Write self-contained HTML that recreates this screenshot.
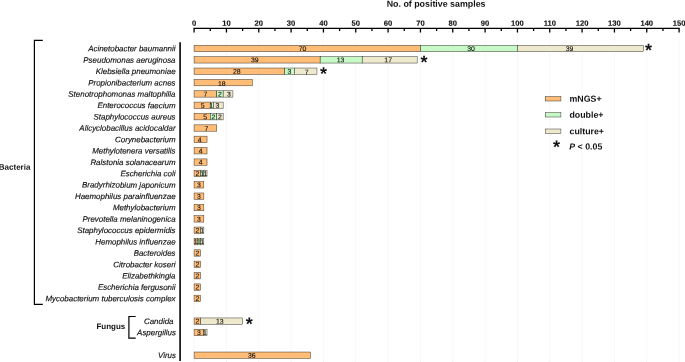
<!DOCTYPE html>
<html><head><meta charset="utf-8"><title>No. of positive samples</title>
<style>html,body{margin:0;padding:0;background:#fff}svg{display:block;will-change:transform}text{text-rendering:geometricPrecision;font-family:"Liberation Sans",sans-serif;fill:#111}.lab{font-style:italic;font-size:7.95px;text-anchor:end;stroke:#111;stroke-width:0.15px}.val{font-size:6.9px;text-anchor:middle;fill:#111;stroke:#111;stroke-width:0.12px}.tick{font-weight:bold;font-size:7.6px;text-anchor:middle;stroke:#111;stroke-width:0.12px}.b{font-weight:bold}</style></head><body>
<svg width="685" height="362" viewBox="0 0 685 362">
<rect width="685" height="362" fill="#fff"/>
<line x1="194.10" y1="33" x2="194.10" y2="362" stroke="#e8e8e8" stroke-width="0.6" stroke-dasharray="1 1"/>
<line x1="226.43" y1="33" x2="226.43" y2="362" stroke="#e8e8e8" stroke-width="0.6" stroke-dasharray="1 1"/>
<line x1="258.77" y1="33" x2="258.77" y2="362" stroke="#e8e8e8" stroke-width="0.6" stroke-dasharray="1 1"/>
<line x1="291.10" y1="33" x2="291.10" y2="362" stroke="#e8e8e8" stroke-width="0.6" stroke-dasharray="1 1"/>
<line x1="323.43" y1="33" x2="323.43" y2="362" stroke="#e8e8e8" stroke-width="0.6" stroke-dasharray="1 1"/>
<line x1="355.76" y1="33" x2="355.76" y2="362" stroke="#e8e8e8" stroke-width="0.6" stroke-dasharray="1 1"/>
<line x1="388.10" y1="33" x2="388.10" y2="362" stroke="#e8e8e8" stroke-width="0.6" stroke-dasharray="1 1"/>
<line x1="420.43" y1="33" x2="420.43" y2="362" stroke="#e8e8e8" stroke-width="0.6" stroke-dasharray="1 1"/>
<line x1="452.76" y1="33" x2="452.76" y2="362" stroke="#e8e8e8" stroke-width="0.6" stroke-dasharray="1 1"/>
<line x1="485.10" y1="33" x2="485.10" y2="362" stroke="#e8e8e8" stroke-width="0.6" stroke-dasharray="1 1"/>
<line x1="517.43" y1="33" x2="517.43" y2="362" stroke="#e8e8e8" stroke-width="0.6" stroke-dasharray="1 1"/>
<line x1="549.76" y1="33" x2="549.76" y2="362" stroke="#e8e8e8" stroke-width="0.6" stroke-dasharray="1 1"/>
<line x1="582.10" y1="33" x2="582.10" y2="362" stroke="#e8e8e8" stroke-width="0.6" stroke-dasharray="1 1"/>
<line x1="614.43" y1="33" x2="614.43" y2="362" stroke="#e8e8e8" stroke-width="0.6" stroke-dasharray="1 1"/>
<line x1="646.76" y1="33" x2="646.76" y2="362" stroke="#e8e8e8" stroke-width="0.6" stroke-dasharray="1 1"/>
<line x1="679.10" y1="33" x2="679.10" y2="362" stroke="#e8e8e8" stroke-width="0.6" stroke-dasharray="1 1"/>
<text class="b" x="436.1" y="6.8" text-anchor="middle" font-size="8.85" transform="rotate(0.03 436.1 6.8)">No. of positive samples</text>
<line x1="193.45" y1="28.4" x2="679.75" y2="28.4" stroke="#000" stroke-width="1.2"/>
<line x1="194.10" y1="28.4" x2="194.10" y2="32.5" stroke="#000" stroke-width="1.3"/>
<text class="tick" x="194.10" y="25.8" transform="rotate(0.03 194.10 25.8)">0</text>
<line x1="210.27" y1="28.4" x2="210.27" y2="31.0" stroke="#000" stroke-width="1.3"/>
<line x1="226.43" y1="28.4" x2="226.43" y2="32.5" stroke="#000" stroke-width="1.3"/>
<text class="tick" x="226.43" y="25.8" transform="rotate(0.03 226.43 25.8)">10</text>
<line x1="242.60" y1="28.4" x2="242.60" y2="31.0" stroke="#000" stroke-width="1.3"/>
<line x1="258.77" y1="28.4" x2="258.77" y2="32.5" stroke="#000" stroke-width="1.3"/>
<text class="tick" x="258.77" y="25.8" transform="rotate(0.03 258.77 25.8)">20</text>
<line x1="274.93" y1="28.4" x2="274.93" y2="31.0" stroke="#000" stroke-width="1.3"/>
<line x1="291.10" y1="28.4" x2="291.10" y2="32.5" stroke="#000" stroke-width="1.3"/>
<text class="tick" x="291.10" y="25.8" transform="rotate(0.03 291.10 25.8)">30</text>
<line x1="307.27" y1="28.4" x2="307.27" y2="31.0" stroke="#000" stroke-width="1.3"/>
<line x1="323.43" y1="28.4" x2="323.43" y2="32.5" stroke="#000" stroke-width="1.3"/>
<text class="tick" x="323.43" y="25.8" transform="rotate(0.03 323.43 25.8)">40</text>
<line x1="339.60" y1="28.4" x2="339.60" y2="31.0" stroke="#000" stroke-width="1.3"/>
<line x1="355.76" y1="28.4" x2="355.76" y2="32.5" stroke="#000" stroke-width="1.3"/>
<text class="tick" x="355.76" y="25.8" transform="rotate(0.03 355.76 25.8)">50</text>
<line x1="371.93" y1="28.4" x2="371.93" y2="31.0" stroke="#000" stroke-width="1.3"/>
<line x1="388.10" y1="28.4" x2="388.10" y2="32.5" stroke="#000" stroke-width="1.3"/>
<text class="tick" x="388.10" y="25.8" transform="rotate(0.03 388.10 25.8)">60</text>
<line x1="404.26" y1="28.4" x2="404.26" y2="31.0" stroke="#000" stroke-width="1.3"/>
<line x1="420.43" y1="28.4" x2="420.43" y2="32.5" stroke="#000" stroke-width="1.3"/>
<text class="tick" x="420.43" y="25.8" transform="rotate(0.03 420.43 25.8)">70</text>
<line x1="436.60" y1="28.4" x2="436.60" y2="31.0" stroke="#000" stroke-width="1.3"/>
<line x1="452.76" y1="28.4" x2="452.76" y2="32.5" stroke="#000" stroke-width="1.3"/>
<text class="tick" x="452.76" y="25.8" transform="rotate(0.03 452.76 25.8)">80</text>
<line x1="468.93" y1="28.4" x2="468.93" y2="31.0" stroke="#000" stroke-width="1.3"/>
<line x1="485.10" y1="28.4" x2="485.10" y2="32.5" stroke="#000" stroke-width="1.3"/>
<text class="tick" x="485.10" y="25.8" transform="rotate(0.03 485.10 25.8)">90</text>
<line x1="501.26" y1="28.4" x2="501.26" y2="31.0" stroke="#000" stroke-width="1.3"/>
<line x1="517.43" y1="28.4" x2="517.43" y2="32.5" stroke="#000" stroke-width="1.3"/>
<text class="tick" x="517.43" y="25.8" transform="rotate(0.03 517.43 25.8)">100</text>
<line x1="533.60" y1="28.4" x2="533.60" y2="31.0" stroke="#000" stroke-width="1.3"/>
<line x1="549.76" y1="28.4" x2="549.76" y2="32.5" stroke="#000" stroke-width="1.3"/>
<text class="tick" x="549.76" y="25.8" transform="rotate(0.03 549.76 25.8)">110</text>
<line x1="565.93" y1="28.4" x2="565.93" y2="31.0" stroke="#000" stroke-width="1.3"/>
<line x1="582.10" y1="28.4" x2="582.10" y2="32.5" stroke="#000" stroke-width="1.3"/>
<text class="tick" x="582.10" y="25.8" transform="rotate(0.03 582.10 25.8)">120</text>
<line x1="598.26" y1="28.4" x2="598.26" y2="31.0" stroke="#000" stroke-width="1.3"/>
<line x1="614.43" y1="28.4" x2="614.43" y2="32.5" stroke="#000" stroke-width="1.3"/>
<text class="tick" x="614.43" y="25.8" transform="rotate(0.03 614.43 25.8)">130</text>
<line x1="630.60" y1="28.4" x2="630.60" y2="31.0" stroke="#000" stroke-width="1.3"/>
<line x1="646.76" y1="28.4" x2="646.76" y2="32.5" stroke="#000" stroke-width="1.3"/>
<text class="tick" x="646.76" y="25.8" transform="rotate(0.03 646.76 25.8)">140</text>
<line x1="662.93" y1="28.4" x2="662.93" y2="31.0" stroke="#000" stroke-width="1.3"/>
<line x1="679.10" y1="28.4" x2="679.10" y2="32.5" stroke="#000" stroke-width="1.3"/>
<text class="tick" x="679.10" y="25.8" transform="rotate(0.03 679.10 25.8)">150</text>
<line x1="180.1" y1="42.2" x2="180.1" y2="361" stroke="#111" stroke-width="1.7"/>
<path d="M42.8 40.3H34.4V304.4H42.8" fill="none" stroke="#000" stroke-width="1.2"/>
<text class="b" x="-1.2" y="169.8" font-size="8" transform="rotate(0.03 -1.2 169.8)">Bacteria</text>
<path d="M135.7 316.5H128.9V338.2H135.7" fill="none" stroke="#000" stroke-width="1.2"/>
<text class="b" x="96.4" y="329.1" font-size="8" transform="rotate(0.03 96.4 329.1)">Fungus</text>
<text class="lab" x="175.55" y="51.35" transform="rotate(0.03 175.55 51.35)">Acinetobacter baumannii</text>
<rect x="194.10" y="45.30" width="226.33" height="6.4" fill="#FFBD78" stroke="#000" stroke-opacity="0.7" stroke-width="0.55"/>
<text class="val" x="302.57" y="51.00" transform="rotate(0.03 302.57 51.00)">70</text>
<rect x="420.43" y="45.30" width="97.00" height="6.4" fill="#C6F9C6" stroke="#000" stroke-opacity="0.7" stroke-width="0.55"/>
<text class="val" x="471.03" y="51.00" transform="rotate(0.03 471.03 51.00)">30</text>
<rect x="517.43" y="45.30" width="126.10" height="6.4" fill="#EEE8CC" stroke="#000" stroke-opacity="0.7" stroke-width="0.55"/>
<text class="val" x="569.48" y="51.00" transform="rotate(0.03 569.48 51.00)">39</text>
<text class="b" x="648.53" y="56.30" text-anchor="middle" font-size="18" transform="rotate(0.03 648.53 56.30)">*</text>
<text class="lab" x="175.55" y="62.71" transform="rotate(0.03 175.55 62.71)">Pseudomonas aeruginosa</text>
<rect x="194.10" y="56.66" width="126.10" height="6.4" fill="#FFBD78" stroke="#000" stroke-opacity="0.7" stroke-width="0.55"/>
<text class="val" x="254.75" y="62.36" transform="rotate(0.03 254.75 62.36)">39</text>
<rect x="320.20" y="56.66" width="42.03" height="6.4" fill="#C6F9C6" stroke="#000" stroke-opacity="0.7" stroke-width="0.55"/>
<text class="val" x="340.62" y="62.36" transform="rotate(0.03 340.62 62.36)">13</text>
<rect x="362.23" y="56.66" width="54.97" height="6.4" fill="#EEE8CC" stroke="#000" stroke-opacity="0.7" stroke-width="0.55"/>
<text class="val" x="388.21" y="62.36" transform="rotate(0.03 388.21 62.36)">17</text>
<text class="b" x="424.10" y="68.21" text-anchor="middle" font-size="18" transform="rotate(0.03 424.10 68.21)">*</text>
<text class="lab" x="175.55" y="74.07" transform="rotate(0.03 175.55 74.07)">Klebsiella pneumoniae</text>
<rect x="194.10" y="68.02" width="90.53" height="6.4" fill="#FFBD78" stroke="#000" stroke-opacity="0.7" stroke-width="0.55"/>
<text class="val" x="236.77" y="73.72" transform="rotate(0.03 236.77 73.72)">28</text>
<rect x="284.63" y="68.02" width="9.70" height="6.4" fill="#C6F9C6" stroke="#000" stroke-opacity="0.7" stroke-width="0.55"/>
<text class="val" x="289.48" y="73.72" transform="rotate(0.03 289.48 73.72)">3</text>
<rect x="294.33" y="68.02" width="22.63" height="6.4" fill="#EEE8CC" stroke="#000" stroke-opacity="0.7" stroke-width="0.55"/>
<text class="val" x="306.55" y="74.62" transform="rotate(0.03 306.55 74.62)">7</text>
<text class="b" x="323.57" y="79.72" text-anchor="middle" font-size="18" transform="rotate(0.03 323.57 79.72)">*</text>
<text class="lab" x="175.55" y="85.43" transform="rotate(0.03 175.55 85.43)">Propionibacterium acnes</text>
<rect x="194.10" y="79.38" width="58.20" height="6.4" fill="#FFBD78" stroke="#000" stroke-opacity="0.7" stroke-width="0.55"/>
<text class="val" x="221.80" y="85.98" transform="rotate(0.03 221.80 85.98)">18</text>
<text class="lab" x="175.55" y="96.79" transform="rotate(0.03 175.55 96.79)">Stenotrophomonas maltophilia</text>
<rect x="194.10" y="90.74" width="22.63" height="6.4" fill="#FFBD78" stroke="#000" stroke-opacity="0.7" stroke-width="0.55"/>
<text class="val" x="205.42" y="96.44" transform="rotate(0.03 205.42 96.44)">7</text>
<rect x="216.73" y="90.74" width="6.47" height="6.4" fill="#C6F9C6" stroke="#000" stroke-opacity="0.7" stroke-width="0.55"/>
<text class="val" x="219.97" y="96.44" transform="rotate(0.03 219.97 96.44)">2</text>
<rect x="223.20" y="90.74" width="9.70" height="6.4" fill="#EEE8CC" stroke="#000" stroke-opacity="0.7" stroke-width="0.55"/>
<text class="val" x="228.95" y="96.44" transform="rotate(0.03 228.95 96.44)">3</text>
<text class="lab" x="175.55" y="108.15" transform="rotate(0.03 175.55 108.15)">Enterococcus faecium</text>
<rect x="194.10" y="102.10" width="16.17" height="6.4" fill="#FFBD78" stroke="#000" stroke-opacity="0.7" stroke-width="0.55"/>
<text class="val" x="202.58" y="107.80" transform="rotate(0.03 202.58 107.80)">5</text>
<rect x="210.27" y="102.10" width="3.23" height="6.4" fill="#C6F9C6" stroke="#000" stroke-opacity="0.7" stroke-width="0.55"/>
<text class="val" x="211.28" y="107.80" transform="rotate(0.03 211.28 107.80)">1</text>
<rect x="213.50" y="102.10" width="9.70" height="6.4" fill="#EEE8CC" stroke="#000" stroke-opacity="0.7" stroke-width="0.55"/>
<text class="val" x="217.35" y="107.80" transform="rotate(0.03 217.35 107.80)">3</text>
<text class="lab" x="175.55" y="119.51" transform="rotate(0.03 175.55 119.51)">Staphylococcus aureus</text>
<rect x="194.10" y="113.46" width="16.17" height="6.4" fill="#FFBD78" stroke="#000" stroke-opacity="0.7" stroke-width="0.55"/>
<text class="val" x="205.28" y="119.16" transform="rotate(0.03 205.28 119.16)">5</text>
<rect x="210.27" y="113.46" width="6.47" height="6.4" fill="#C6F9C6" stroke="#000" stroke-opacity="0.7" stroke-width="0.55"/>
<text class="val" x="213.50" y="119.16" transform="rotate(0.03 213.50 119.16)">2</text>
<rect x="216.73" y="113.46" width="6.47" height="6.4" fill="#EEE8CC" stroke="#000" stroke-opacity="0.7" stroke-width="0.55"/>
<text class="val" x="219.97" y="119.16" transform="rotate(0.03 219.97 119.16)">2</text>
<text class="lab" x="175.55" y="130.87" transform="rotate(0.03 175.55 130.87)">Alicyclobacillus acidocaldar</text>
<rect x="194.10" y="124.82" width="22.63" height="6.4" fill="#FFBD78" stroke="#000" stroke-opacity="0.7" stroke-width="0.55"/>
<text class="val" x="206.32" y="131.02" transform="rotate(0.03 206.32 131.02)">7</text>
<text class="lab" x="175.55" y="142.23" transform="rotate(0.03 175.55 142.23)">Corynebacterium</text>
<rect x="194.10" y="136.18" width="12.93" height="6.4" fill="#FFBD78" stroke="#000" stroke-opacity="0.7" stroke-width="0.55"/>
<text class="val" x="199.67" y="142.28" transform="rotate(0.03 199.67 142.28)">4</text>
<text class="lab" x="175.55" y="153.59" transform="rotate(0.03 175.55 153.59)">Methylotenera versatilis</text>
<rect x="194.10" y="147.54" width="12.93" height="6.4" fill="#FFBD78" stroke="#000" stroke-opacity="0.7" stroke-width="0.55"/>
<text class="val" x="200.57" y="153.24" transform="rotate(0.03 200.57 153.24)">4</text>
<text class="lab" x="175.55" y="164.95" transform="rotate(0.03 175.55 164.95)">Ralstonia solanacearum</text>
<rect x="194.10" y="158.90" width="12.93" height="6.4" fill="#FFBD78" stroke="#000" stroke-opacity="0.7" stroke-width="0.55"/>
<text class="val" x="200.57" y="164.60" transform="rotate(0.03 200.57 164.60)">4</text>
<text class="lab" x="175.55" y="176.31" transform="rotate(0.03 175.55 176.31)">Escherichia coli</text>
<rect x="194.10" y="170.26" width="6.47" height="6.4" fill="#FFBD78" stroke="#000" stroke-opacity="0.7" stroke-width="0.55"/>
<text class="val" x="197.33" y="175.96" transform="rotate(0.03 197.33 175.96)">2</text>
<rect x="200.57" y="170.26" width="3.23" height="6.4" fill="#C6F9C6" stroke="#000" stroke-opacity="0.7" stroke-width="0.55"/>
<text class="val" x="202.18" y="175.96" transform="rotate(0.03 202.18 175.96)">1</text>
<rect x="203.80" y="170.26" width="3.23" height="6.4" fill="#EEE8CC" stroke="#000" stroke-opacity="0.7" stroke-width="0.55"/>
<text class="val" x="205.42" y="175.96" transform="rotate(0.03 205.42 175.96)">1</text>
<text class="lab" x="175.55" y="187.67" transform="rotate(0.03 175.55 187.67)">Bradyrhizobium japonicum</text>
<rect x="194.10" y="181.62" width="9.70" height="6.4" fill="#FFBD78" stroke="#000" stroke-opacity="0.7" stroke-width="0.55"/>
<text class="val" x="198.95" y="187.32" transform="rotate(0.03 198.95 187.32)">3</text>
<text class="lab" x="175.55" y="199.03" transform="rotate(0.03 175.55 199.03)">Haemophilus parainfluenzae</text>
<rect x="194.10" y="192.98" width="9.70" height="6.4" fill="#FFBD78" stroke="#000" stroke-opacity="0.7" stroke-width="0.55"/>
<text class="val" x="198.95" y="198.68" transform="rotate(0.03 198.95 198.68)">3</text>
<text class="lab" x="175.55" y="210.39" transform="rotate(0.03 175.55 210.39)">Methylobacterium</text>
<rect x="194.10" y="204.34" width="9.70" height="6.4" fill="#FFBD78" stroke="#000" stroke-opacity="0.7" stroke-width="0.55"/>
<text class="val" x="198.95" y="210.04" transform="rotate(0.03 198.95 210.04)">3</text>
<text class="lab" x="175.55" y="221.75" transform="rotate(0.03 175.55 221.75)">Prevotella melaninogenica</text>
<rect x="194.10" y="215.70" width="9.70" height="6.4" fill="#FFBD78" stroke="#000" stroke-opacity="0.7" stroke-width="0.55"/>
<text class="val" x="198.95" y="221.40" transform="rotate(0.03 198.95 221.40)">3</text>
<text class="lab" x="175.55" y="233.11" transform="rotate(0.03 175.55 233.11)">Staphylococcus epidermidis</text>
<rect x="194.10" y="227.06" width="6.47" height="6.4" fill="#FFBD78" stroke="#000" stroke-opacity="0.7" stroke-width="0.55"/>
<text class="val" x="197.33" y="232.76" transform="rotate(0.03 197.33 232.76)">2</text>
<rect x="200.57" y="227.06" width="3.23" height="6.4" fill="#EEE8CC" stroke="#000" stroke-opacity="0.7" stroke-width="0.55"/>
<text class="val" x="202.18" y="232.76" transform="rotate(0.03 202.18 232.76)">1</text>
<text class="lab" x="175.55" y="244.47" transform="rotate(0.03 175.55 244.47)">Hemophilus influenzae</text>
<rect x="194.10" y="238.42" width="3.23" height="6.4" fill="#FFBD78" stroke="#000" stroke-opacity="0.7" stroke-width="0.55"/>
<text class="val" x="195.72" y="244.12" transform="rotate(0.03 195.72 244.12)">1</text>
<rect x="197.33" y="238.42" width="3.23" height="6.4" fill="#C6F9C6" stroke="#000" stroke-opacity="0.7" stroke-width="0.55"/>
<text class="val" x="198.95" y="244.12" transform="rotate(0.03 198.95 244.12)">1</text>
<rect x="200.57" y="238.42" width="3.23" height="6.4" fill="#EEE8CC" stroke="#000" stroke-opacity="0.7" stroke-width="0.55"/>
<text class="val" x="202.18" y="244.12" transform="rotate(0.03 202.18 244.12)">1</text>
<text class="lab" x="175.55" y="255.83" transform="rotate(0.03 175.55 255.83)">Bacteroides</text>
<rect x="194.10" y="249.78" width="6.47" height="6.4" fill="#FFBD78" stroke="#000" stroke-opacity="0.7" stroke-width="0.55"/>
<text class="val" x="197.33" y="255.48" transform="rotate(0.03 197.33 255.48)">2</text>
<text class="lab" x="175.55" y="267.19" transform="rotate(0.03 175.55 267.19)">Citrobacter koseri</text>
<rect x="194.10" y="261.14" width="6.47" height="6.4" fill="#FFBD78" stroke="#000" stroke-opacity="0.7" stroke-width="0.55"/>
<text class="val" x="197.33" y="266.84" transform="rotate(0.03 197.33 266.84)">2</text>
<text class="lab" x="175.55" y="278.55" transform="rotate(0.03 175.55 278.55)">Elizabethkingia</text>
<rect x="194.10" y="272.50" width="6.47" height="6.4" fill="#FFBD78" stroke="#000" stroke-opacity="0.7" stroke-width="0.55"/>
<text class="val" x="197.33" y="278.20" transform="rotate(0.03 197.33 278.20)">2</text>
<text class="lab" x="175.55" y="289.91" transform="rotate(0.03 175.55 289.91)">Escherichia fergusonii</text>
<rect x="194.10" y="283.86" width="6.47" height="6.4" fill="#FFBD78" stroke="#000" stroke-opacity="0.7" stroke-width="0.55"/>
<text class="val" x="197.33" y="289.56" transform="rotate(0.03 197.33 289.56)">2</text>
<text class="lab" x="175.55" y="301.27" transform="rotate(0.03 175.55 301.27)">Mycobacterium tuberculosis complex</text>
<rect x="194.10" y="295.22" width="6.47" height="6.4" fill="#FFBD78" stroke="#000" stroke-opacity="0.7" stroke-width="0.55"/>
<text class="val" x="197.33" y="300.92" transform="rotate(0.03 197.33 300.92)">2</text>
<text class="lab" x="173.54999999999998" y="323.99" transform="rotate(0.03 173.54999999999998 323.99)">Candida</text>
<rect x="194.10" y="317.94" width="6.47" height="6.4" fill="#FFBD78" stroke="#000" stroke-opacity="0.7" stroke-width="0.55"/>
<text class="val" x="197.33" y="323.64" transform="rotate(0.03 197.33 323.64)">2</text>
<rect x="200.57" y="317.94" width="42.03" height="6.4" fill="#EEE8CC" stroke="#000" stroke-opacity="0.7" stroke-width="0.55"/>
<text class="val" x="219.88" y="323.64" transform="rotate(0.03 219.88 323.64)">13</text>
<text class="b" x="249.35" y="329.99" text-anchor="middle" font-size="18" transform="rotate(0.03 249.35 329.99)">*</text>
<text class="lab" x="175.95" y="335.35" transform="rotate(0.03 175.95 335.35)">Aspergillus</text>
<rect x="194.10" y="329.30" width="9.70" height="6.4" fill="#FFBD78" stroke="#000" stroke-opacity="0.7" stroke-width="0.55"/>
<text class="val" x="198.95" y="335.00" transform="rotate(0.03 198.95 335.00)">3</text>
<rect x="203.80" y="329.30" width="3.23" height="6.4" fill="#EEE8CC" stroke="#000" stroke-opacity="0.7" stroke-width="0.55"/>
<text class="val" x="204.92" y="335.00" transform="rotate(0.03 204.92 335.00)">1</text>
<text class="lab" x="175.95" y="358.07" transform="rotate(0.03 175.95 358.07)">Virus</text>
<rect x="194.10" y="352.02" width="116.40" height="6.4" fill="#FFBD78" stroke="#000" stroke-opacity="0.7" stroke-width="0.55"/>
<text class="val" x="251.80" y="357.72" transform="rotate(0.03 251.80 357.72)">36</text>
<rect x="545.3" y="96.60" width="15.6" height="4.4" fill="#FFBD78" stroke="#000" stroke-opacity="0.7" stroke-width="0.55"/>
<text class="b" x="569.5" y="101.75" font-size="8.8" transform="rotate(0.03 569.5 101.75)">mNGS+</text>
<rect x="545.3" y="112.60" width="15.6" height="4.4" fill="#C6F9C6" stroke="#000" stroke-opacity="0.7" stroke-width="0.55"/>
<text class="b" x="569.5" y="117.75" font-size="8.8" transform="rotate(0.03 569.5 117.75)">double+</text>
<rect x="545.3" y="129.00" width="15.6" height="4.4" fill="#EEE8CC" stroke="#000" stroke-opacity="0.7" stroke-width="0.55"/>
<text class="b" x="569.5" y="134.15" font-size="8.8" transform="rotate(0.03 569.5 134.15)">culture+</text>
<text class="b" x="556.5" y="153.0" text-anchor="middle" font-size="18" transform="rotate(0.03 556.5 153.0)">*</text>
<text class="b" x="569.3" y="149.6" font-size="8.8" transform="rotate(0.03 569.3 149.6)"><tspan font-style="italic">P</tspan> &lt; 0.05</text>
</svg></body></html>
